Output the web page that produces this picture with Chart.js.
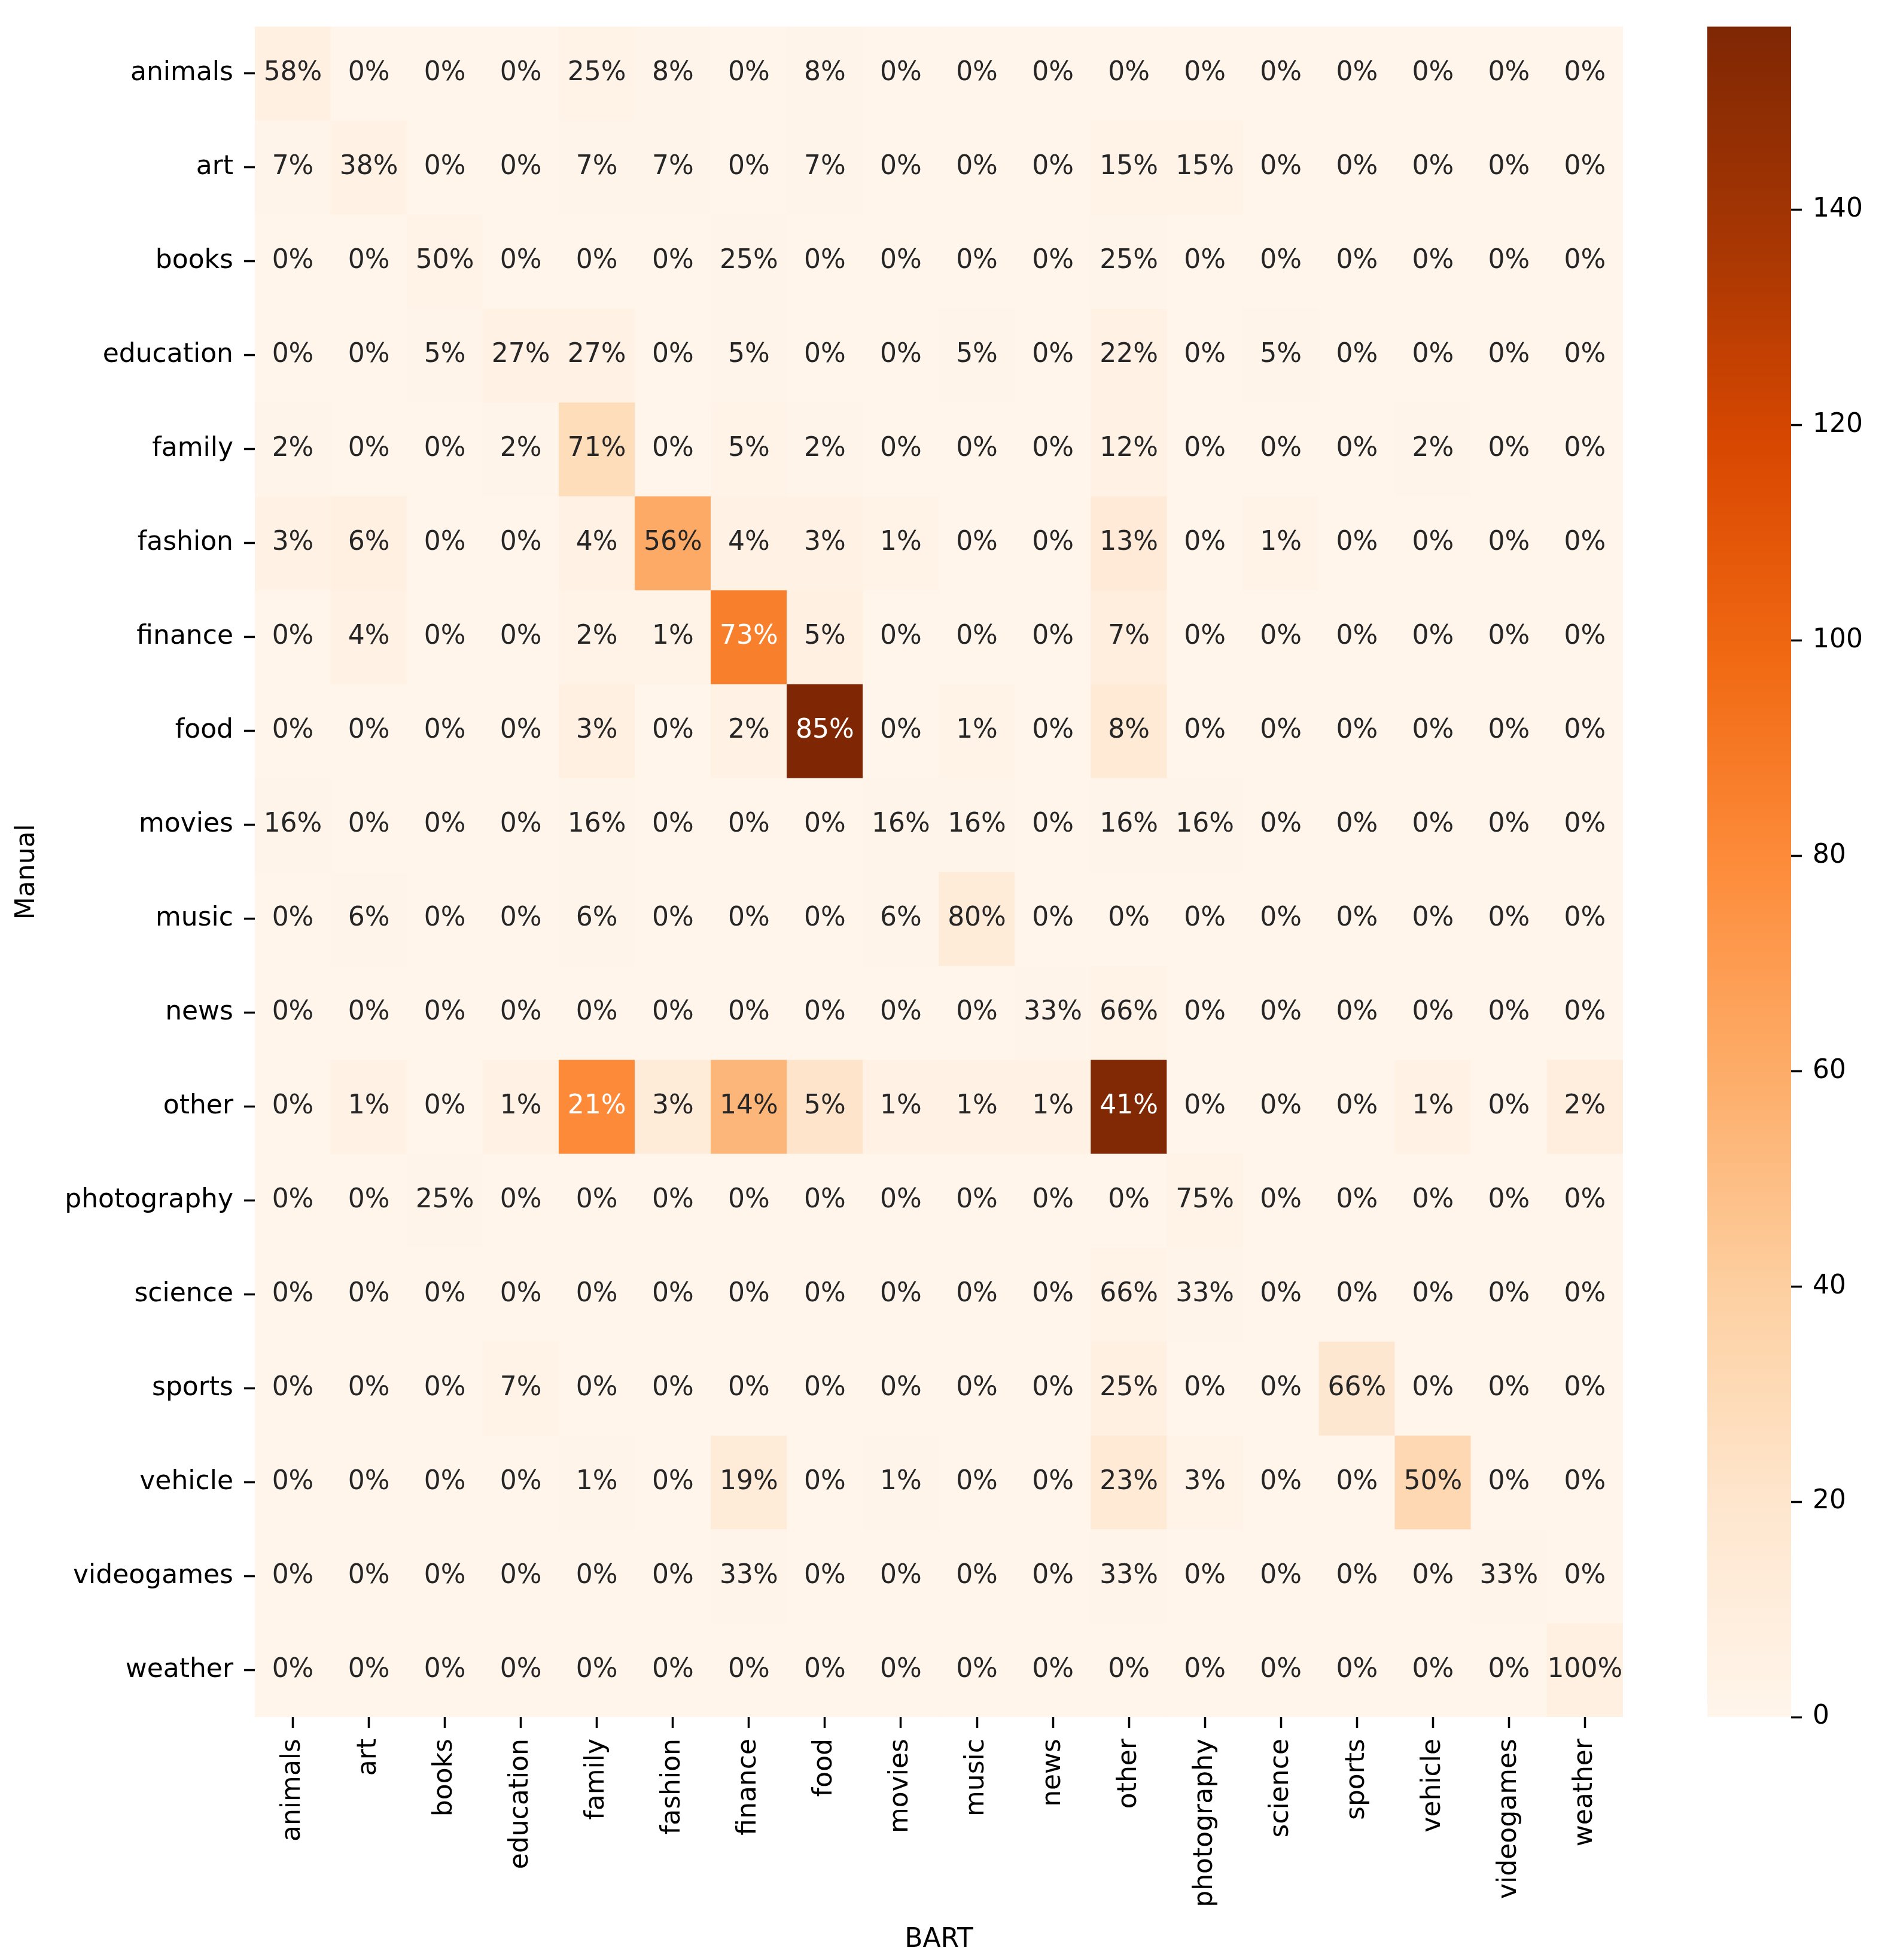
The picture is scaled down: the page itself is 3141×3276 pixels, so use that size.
<!DOCTYPE html>
<html><head><meta charset="utf-8">
<script src="https://cdn.jsdelivr.net/npm/chart.js@4.4.1/dist/chart.umd.min.js"></script>
<style>
html,body{margin:0;padding:0;background:#fff;}
#wrap{position:relative;width:3141px;height:3276px;background:#fff;}
#main{position:absolute;left:0;top:0;}
#cbar{position:absolute;left:2790px;top:0;}
</style></head><body>
<div id="wrap"><canvas id="main" width="2790" height="3276"></canvas><canvas id="cbar" width="351" height="3276"></canvas></div>
<script>
// Category labels (rows = Manual, columns = BART)
const rowLabels = ['animals','art','books','education','family','fashion','finance','food','movies','music','news','other','photography','science','sports','vehicle','videogames','weather'];
const colLabels = ['animals','art','books','education','family','fashion','finance','food','movies','music','news','other','photography','science','sports','vehicle','videogames','weather'];

// Annotated percentages (as printed in each cell)
const pctAnimals     = [58,0,0,0,25,8,0,8,0,0,0,0,0,0,0,0,0,0];
const pctArt         = [7,38,0,0,7,7,0,7,0,0,0,15,15,0,0,0,0,0];
const pctBooks       = [0,0,50,0,0,0,25,0,0,0,0,25,0,0,0,0,0,0];
const pctEducation   = [0,0,5,27,27,0,5,0,0,5,0,22,0,5,0,0,0,0];
const pctFamily      = [2,0,0,2,71,0,5,2,0,0,0,12,0,0,0,2,0,0];
const pctFashion     = [3,6,0,0,4,56,4,3,1,0,0,13,0,1,0,0,0,0];
const pctFinance     = [0,4,0,0,2,1,73,5,0,0,0,7,0,0,0,0,0,0];
const pctFood        = [0,0,0,0,3,0,2,85,0,1,0,8,0,0,0,0,0,0];
const pctMovies      = [16,0,0,0,16,0,0,0,16,16,0,16,16,0,0,0,0,0];
const pctMusic       = [0,6,0,0,6,0,0,0,6,80,0,0,0,0,0,0,0,0];
const pctNews        = [0,0,0,0,0,0,0,0,0,0,33,66,0,0,0,0,0,0];
const pctOther       = [0,1,0,1,21,3,14,5,1,1,1,41,0,0,0,1,0,2];
const pctPhotography = [0,0,25,0,0,0,0,0,0,0,0,0,75,0,0,0,0,0];
const pctScience     = [0,0,0,0,0,0,0,0,0,0,0,66,33,0,0,0,0,0];
const pctSports      = [0,0,0,7,0,0,0,0,0,0,0,25,0,0,66,0,0,0];
const pctVehicle     = [0,0,0,0,1,0,19,0,1,0,0,23,3,0,0,50,0,0];
const pctVideogames  = [0,0,0,0,0,0,33,0,0,0,0,33,0,0,0,0,33,0];
const pctWeather     = [0,0,0,0,0,0,0,0,0,0,0,0,0,0,0,0,0,100];

// Estimated counts (drive the colour scale)
const cntAnimals     = [7,0,0,0,3,1,0,1,0,0,0,0,0,0,0,0,0,0];
const cntArt         = [1,5,0,0,1,1,0,1,0,0,0,2,2,0,0,0,0,0];
const cntBooks       = [0,0,2,0,0,0,1,0,0,0,0,1,0,0,0,0,0,0];
const cntEducation   = [0,0,1,5,5,0,1,0,0,1,0,4,0,1,0,0,0,0];
const cntFamily      = [1,0,0,1,28,0,2,1,0,0,0,5,0,0,0,1,0,0];
const cntFashion     = [4,7,0,0,5,61,5,4,2,0,0,14,0,2,0,0,0,0];
const cntFinance     = [0,5,0,0,3,2,86,6,0,0,0,9,0,0,0,0,0,0];
const cntFood        = [0,0,0,0,6,0,4,157,0,2,0,15,0,0,0,0,0,0];
const cntMovies      = [1,0,0,0,1,0,0,0,1,1,0,1,1,0,0,0,0,0];
const cntMusic       = [0,1,0,0,1,0,0,0,1,12,0,0,0,0,0,0,0,0];
const cntNews        = [0,0,0,0,0,0,0,0,0,0,1,2,0,0,0,0,0,0];
const cntOther       = [0,5,0,5,80,12,54,21,5,5,5,156,0,0,0,5,0,9];
const cntPhotography = [0,0,1,0,0,0,0,0,0,0,0,0,3,0,0,0,0,0];
const cntScience     = [0,0,0,0,0,0,0,0,0,0,0,2,1,0,0,0,0,0];
const cntSports      = [0,0,0,2,0,0,0,0,0,0,0,7,0,0,18,0,0,0];
const cntVehicle     = [0,0,0,0,1,0,12,0,1,0,0,15,2,0,0,32,0,0];
const cntVideogames  = [0,0,0,0,0,0,1,0,0,0,0,1,0,0,0,0,1,0];
const cntWeather     = [0,0,0,0,0,0,0,0,0,0,0,0,0,0,0,0,0,6];

// Colour bar tick labels
const cbTicks = [0,20,40,60,80,100,120,140];

const pctRows = [pctAnimals,pctArt,pctBooks,pctEducation,pctFamily,pctFashion,pctFinance,pctFood,pctMovies,pctMusic,pctNews,pctOther,pctPhotography,pctScience,pctSports,pctVehicle,pctVideogames,pctWeather];
const cntRows = [cntAnimals,cntArt,cntBooks,cntEducation,cntFamily,cntFashion,cntFinance,cntFood,cntMovies,cntMusic,cntNews,cntOther,cntPhotography,cntScience,cntSports,cntVehicle,cntVideogames,cntWeather];

const FONT = 'DejaVu Sans';
const FS = 44;
const OR = ['#fff5eb','#fee6ce','#fdd0a2','#fdae6b','#fd8d3c','#f16913','#d94801','#a63603','#7f2704'];
const ORgb = OR.map(h => [1,3,5].map(i => parseInt(h.substr(i,2),16)));
function cmap(t){
  t = Math.max(0, Math.min(1, t));
  const s = t*8; const i = Math.min(7, Math.floor(s)); const f = s - i;
  const a = ORgb[i], b = ORgb[i+1];
  return a.map((v,k) => Math.round(v + (b[k]-v)*f));
}
const vmax = Math.max(...cntRows.flat());
function cellColor(n){ const c = cmap(n/vmax); return `rgb(${c[0]},${c[1]},${c[2]})`; }
function lum(c){
  const l = c.map(v => { v/=255; return v <= 0.03928 ? v/12.92 : Math.pow((v+0.055)/1.055, 2.4); });
  return 0.2126*l[0] + 0.7152*l[1] + 0.0722*l[2];
}

const datasets = rowLabels.map((r, ri) => ({
  label: r,
  data: colLabels.map(() => [ri, ri+1]),
  backgroundColor: cntRows[ri].map(cellColor),
  borderWidth: 0,
  barPercentage: 1,
  categoryPercentage: 1,
  grouped: false
}));

const annot = {
  id: 'annot',
  afterDatasetsDraw(chart){
    const {ctx, scales:{x, y}} = chart;
    ctx.save();
    ctx.font = `${FS}px "${FONT}"`;
    ctx.textAlign = 'center';
    ctx.textBaseline = 'middle';
    pctRows.forEach((row, ri) => row.forEach((p, ci) => {
      const c = cmap(cntRows[ri][ci]/vmax);
      ctx.fillStyle = lum(c) > 0.408 ? '#262626' : '#ffffff';
      ctx.fillText(p + '%', x.getPixelForValue(ci), y.getPixelForValue(ri + 0.5));
    }));
    ctx.restore();
  }
};

const tickFont = {family: FONT, size: FS};
const tickGrid = {display: true, drawOnChartArea: false, offset: false, tickLength: 18, tickWidth: 3.5, tickColor: '#000'};

new Chart(document.getElementById('main'), {
  type: 'bar',
  data: {labels: colLabels, datasets},
  options: {
    responsive: false, animation: false, devicePixelRatio: 1,
    layout: {padding: {top: 31, right: 77, bottom: 0, left: 0}},
    plugins: {legend: {display: false}, tooltip: {enabled: false}},
    scales: {
      x: {
        type: 'category', offset: true,
        grid: tickGrid, border: {display: false},
        ticks: {autoSkip: false, minRotation: 90, maxRotation: 90, padding: 18, color: '#000', font: tickFont},
        title: {display: true, text: 'BART', color: '#000', font: tickFont, padding: {top: 0, bottom: 7}},
        afterFit(s){ s.height = 3276 - 2870; }
      },
      y: {
        type: 'linear', min: 0, max: rowLabels.length, reverse: true,
        afterBuildTicks(s){ s.ticks = rowLabels.map((_, i) => ({value: i + 0.5})); },
        grid: tickGrid, border: {display: false},
        ticks: {autoSkip: false, padding: 18, color: '#000', font: tickFont, callback: (v, i) => rowLabels[i]},
        title: {display: true, text: 'Manual', color: '#000', font: tickFont, padding: {top: 19, bottom: 0}},
        afterFit(s){ s.width = 426; }
      }
    }
  },
  plugins: [annot]
});

new Chart(document.getElementById('cbar'), {
  type: 'bar',
  data: {labels: [''], datasets: [{
    data: [[0, vmax]], barPercentage: 1, categoryPercentage: 1, borderWidth: 0,
    backgroundColor(ctx){
      const ca = ctx.chart.chartArea;
      if (!ca) return OR[4];
      const g = ctx.chart.ctx.createLinearGradient(0, ca.bottom, 0, ca.top);
      OR.forEach((c, i) => g.addColorStop(i/8, c));
      return g;
    }
  }]},
  options: {
    responsive: false, animation: false, devicePixelRatio: 1,
    layout: {padding: {top: 31, left: 64, right: 0, bottom: 3276 - 2870}},
    plugins: {legend: {display: false}, tooltip: {enabled: false}},
    scales: {
      x: {display: false},
      y: {
        position: 'right', min: 0, max: vmax,
        afterBuildTicks(s){ s.ticks = cbTicks.map(v => ({value: v})); },
        grid: {display: true, drawOnChartArea: false, tickLength: 18, tickWidth: 3.5, tickColor: '#000'},
        border: {display: false},
        ticks: {padding: 18, color: '#000', font: tickFont},
        afterFit(s){ s.width = 147; }
      }
    }
  }
});
</script>
</body></html>
